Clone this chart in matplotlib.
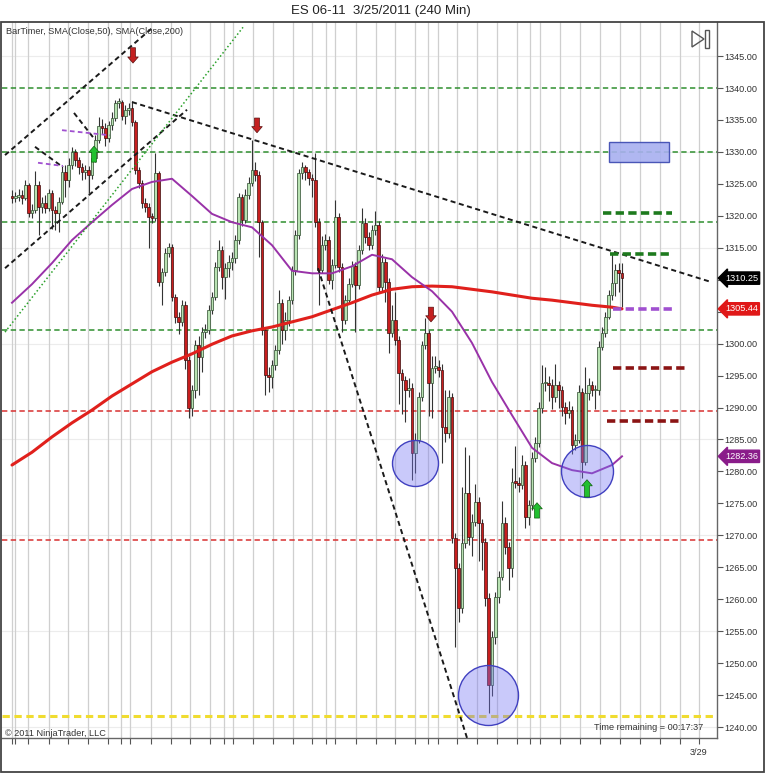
import matplotlib
matplotlib.use("Agg")
import matplotlib.pyplot as plt
import matplotlib.transforms as mtransforms
from matplotlib.patches import Rectangle, Polygon
import numpy as np

plt.rcParams['font.family'] = ['Liberation Sans', 'DejaVu Sans']

# ---------------- data ----------------
title = "ES 06-11  3/25/2011 (240 Min)"
indicator_text = "BarTimer, SMA(Close,50), SMA(Close,200)"
first_open = 1323.0
closes = [
    1322.8, 1322.9, 1323.3, 1322.8, 1324.8, 1320.4, 1320.9, 1324.8, 1321.4, 1322.0,
    1321.2, 1323.6, 1320.9, 1320.4, 1322.2, 1326.9, 1325.6, 1328.0, 1330.0, 1328.7,
    1327.6, 1326.9, 1327.2, 1326.4, 1329.0, 1331.9, 1334.1, 1333.7, 1332.2, 1334.2,
    1335.3, 1337.7, 1337.8, 1335.6, 1336.6, 1336.9, 1334.7, 1327.2, 1325.1, 1322.0,
    1321.4, 1319.8, 1319.7, 1326.7, 1309.6, 1311.2, 1314.2, 1315.1, 1307.3, 1304.2,
    1303.4, 1306.0, 1297.4, 1289.9, 1292.7, 1299.8, 1297.9, 1301.8, 1302.1, 1305.3,
    1307.3, 1312.0, 1314.6, 1310.4, 1311.8, 1312.7, 1313.4, 1316.2, 1322.9, 1319.3,
    1323.3, 1325.1, 1327.2, 1326.4, 1319.0, 1302.1, 1295.1, 1294.8, 1296.7, 1299.0,
    1306.4, 1302.1, 1303.7, 1306.8, 1311.5, 1317.0, 1326.7, 1327.6, 1326.9, 1325.9,
    1325.6, 1319.0, 1311.5, 1315.4, 1316.2, 1310.0, 1312.3, 1319.8, 1312.0, 1303.7,
    1306.8, 1309.4, 1312.2, 1309.2, 1314.6, 1318.9, 1316.7, 1315.4, 1317.8, 1318.6,
    1308.9, 1312.8, 1309.6, 1301.7, 1303.7, 1300.6, 1295.4, 1294.3, 1292.7, 1293.0,
    1282.9, 1284.9, 1291.6, 1299.8, 1301.7, 1293.8, 1296.2, 1296.4, 1295.9, 1287.0,
    1286.0, 1291.6, 1269.6, 1264.9, 1258.6, 1268.8, 1276.6, 1269.7, 1272.1, 1275.2,
    1271.9, 1268.9, 1260.2, 1246.6, 1254.1, 1260.3, 1263.5, 1271.9, 1268.2, 1264.9,
    1278.3, 1278.2, 1277.9, 1281.0, 1272.9, 1274.7, 1282.1, 1284.4, 1289.9, 1293.8,
    1293.8, 1293.5, 1291.6, 1293.5, 1292.7, 1290.1, 1289.1, 1289.6, 1284.1, 1284.9,
    1292.4, 1281.5, 1292.3, 1293.5, 1292.7, 1292.7, 1299.5, 1301.7, 1304.2, 1307.6,
    1309.5, 1311.5, 1311.0, 1310.25,
]
highs = [
    1324.0, 1323.8, 1324.2, 1324.0, 1325.6, 1325.2, 1321.8, 1327.0, 1325.4, 1323.0,
    1323.2, 1324.2, 1324.0, 1321.6, 1323.0, 1327.8, 1328.0, 1329.0, 1330.8, 1330.4,
    1329.2, 1328.2, 1328.0, 1327.8, 1329.6, 1332.6, 1335.4, 1335.2, 1334.5, 1334.8,
    1336.2, 1338.2, 1338.4, 1338.2, 1337.4, 1337.6, 1338.0, 1335.0, 1327.6, 1325.6,
    1322.8, 1322.0, 1320.5, 1329.8, 1327.0, 1311.8, 1315.0, 1315.8, 1315.6, 1307.8,
    1305.0, 1306.8, 1306.6, 1298.0, 1293.6, 1300.6, 1301.2, 1302.6, 1303.0, 1306.0,
    1308.0, 1312.8, 1316.2, 1315.3, 1312.6, 1313.8, 1314.4, 1317.0, 1323.6, 1323.4,
    1324.2, 1326.0, 1331.9, 1328.4, 1327.0, 1319.4, 1302.6, 1296.4, 1297.4, 1299.8,
    1308.4, 1307.0, 1305.0, 1307.5, 1312.2, 1317.8, 1327.4, 1328.4, 1328.0, 1327.4,
    1326.6, 1329.8, 1319.6, 1316.8, 1317.2, 1316.8, 1313.2, 1322.5, 1320.4, 1312.6,
    1307.6, 1310.2, 1313.0, 1312.8, 1315.4, 1321.2, 1319.6, 1317.4, 1318.6, 1320.8,
    1319.2, 1314.0, 1313.4, 1310.2, 1306.0, 1308.0, 1301.2, 1296.0, 1295.0, 1294.6,
    1293.8, 1286.0, 1292.4, 1300.4, 1304.0, 1302.2, 1298.0, 1298.0, 1297.4, 1296.8,
    1292.8, 1292.8, 1292.2, 1270.4, 1265.6, 1277.5, 1283.8, 1282.5, 1273.4, 1278.0,
    1276.0, 1272.6, 1269.6, 1261.0, 1255.0, 1261.2, 1264.4, 1275.4, 1272.8, 1269.0,
    1280.5, 1284.0, 1279.2, 1282.6, 1281.6, 1275.6, 1283.0, 1285.4, 1290.8, 1296.7,
    1296.4, 1295.0, 1294.4, 1296.8, 1294.2, 1293.4, 1290.8, 1291.0, 1290.2, 1285.8,
    1293.6, 1293.0, 1296.3, 1294.6, 1294.2, 1293.6, 1300.4, 1302.6, 1305.0, 1308.4,
    1314.2, 1312.4, 1312.6, 1312.6,
]
lows = [
    1322.0, 1322.2, 1322.3, 1321.8, 1322.5, 1319.8, 1319.6, 1320.5, 1317.0, 1320.5,
    1320.4, 1320.8, 1318.0, 1317.8, 1317.5, 1321.8, 1323.0, 1324.5, 1327.4, 1327.8,
    1326.5, 1325.6, 1325.8, 1323.5, 1325.8, 1328.4, 1331.4, 1332.8, 1331.0, 1331.6,
    1333.4, 1334.9, 1336.8, 1335.0, 1334.4, 1335.8, 1334.0, 1326.5, 1324.4, 1321.2,
    1320.6, 1315.0, 1318.8, 1319.2, 1309.0, 1306.0, 1310.6, 1313.5, 1306.6, 1303.2,
    1301.5, 1302.8, 1296.0, 1288.4, 1288.6, 1291.5, 1292.0, 1295.5, 1300.8, 1301.5,
    1304.6, 1306.8, 1311.4, 1308.5, 1307.0, 1310.5, 1311.5, 1312.6, 1315.6, 1318.4,
    1318.8, 1322.6, 1324.6, 1325.4, 1313.5, 1301.4, 1292.0, 1292.4, 1293.0, 1295.8,
    1298.4, 1300.0, 1300.5, 1302.8, 1306.2, 1310.8, 1316.4, 1325.8, 1325.6, 1324.8,
    1323.0, 1318.2, 1306.0, 1311.0, 1314.6, 1309.4, 1308.6, 1311.8, 1311.2, 1301.8,
    1303.0, 1306.2, 1308.8, 1301.8, 1308.6, 1314.0, 1315.8, 1314.6, 1314.8, 1317.0,
    1308.0, 1308.2, 1306.5, 1298.5, 1301.0, 1299.8, 1290.5, 1289.0, 1287.8, 1291.6,
    1278.7, 1279.8, 1284.4, 1291.0, 1299.2, 1288.6, 1288.4, 1295.4, 1294.8, 1281.3,
    1284.6, 1285.2, 1268.8, 1252.5, 1256.4, 1257.8, 1268.0, 1268.5, 1266.8, 1271.4,
    1266.0, 1264.6, 1259.0, 1242.2, 1244.8, 1253.0, 1259.4, 1263.0, 1267.0, 1261.4,
    1263.5, 1277.4, 1276.8, 1277.2, 1271.2, 1271.6, 1274.0, 1281.4, 1283.8, 1289.2,
    1292.6, 1291.0, 1289.8, 1290.8, 1290.0, 1288.6, 1287.4, 1288.4, 1282.8, 1283.4,
    1284.4, 1279.0, 1281.0, 1291.2, 1291.8, 1289.8, 1292.0, 1299.0, 1301.0, 1303.8,
    1306.8, 1307.5, 1308.0, 1305.7,
]

sma_bars = [0, 6, 12, 18, 24, 30, 36, 42, 48, 54, 60, 66, 72, 78, 84, 90, 96, 102,
            108, 114, 120, 126, 132, 138, 144, 150, 156, 162, 168, 174, 180, 183]
sma50 = [1306.4, 1309.3, 1312.6, 1316.2, 1319.0, 1321.7, 1324.2, 1325.3, 1325.8, 1323.1,
         1320.3, 1319.0, 1318.2, 1315.4, 1311.4, 1311.0, 1311.0, 1312.1, 1313.9, 1313.2,
         1310.4, 1308.2, 1305.0, 1300.1, 1294.0, 1288.8, 1283.7, 1281.3, 1280.2, 1279.7,
         1281.0, 1282.36]
sma200 = [1281.0, 1283.0, 1285.4, 1287.6, 1289.6, 1291.8, 1293.7, 1295.6, 1297.1, 1298.4,
          1299.9, 1301.2, 1302.0, 1302.6, 1303.4, 1304.2, 1305.3, 1306.4, 1307.6, 1308.5,
          1308.9, 1309.0, 1308.9, 1308.5, 1308.1, 1307.6, 1307.1, 1306.8, 1306.4, 1306.0,
          1305.7, 1305.44]

grid_bars = [-0.1, 0.9, 4.8, 11, 16.8, 22.8, 28.8, 32.7, 35.4, 41.7, 47.7, 53.4, 59.4,
             63.6, 66.3, 72.3, 78.3, 84.3, 90, 94.2, 96.9, 103.2, 109.2, 114.9, 120.9,
             124.8, 127.8, 133.5, 139.5, 145.5, 151.5, 155.4, 158.4, 164.4, 170.4, 176.4,
             182.4, 188.4, 194.4, 200.4, 206.1]
x_label = "3/29"
y_ticks = list(range(1240, 1350, 5))
hidden_tick_labels = [1305, 1310]   # covered by the price tags in the reference

green_levels = [1340.0, 1330.0, 1319.0, 1302.2]
red_levels = [1289.4, 1269.2]
yellow_level = 1241.8

# trend lines (bar, price) pairs
black_lines = [((-2.1, 1329.5), (42.3, 1349.5)),
               ((-2.1, 1311.8), (52.5, 1336.6)),
               ((6.9, 1330.8), (15.3, 1327.6)),
               ((18.6, 1336.1), (24.3, 1332.3)),
               ((36.0, 1337.8), (210.0, 1309.6)),
               ((91.8, 1311.8), (136.5, 1238.3))]
green_dotted = ((-2.1, 1301.8), (69.3, 1349.5))
purple_short = [((7.8, 1328.3), (15.3, 1327.8)), ((15.0, 1333.4), (29.4, 1332.6))]

# right-side projected levels: (start bar, end bar, price, colour)
proj_levels = [(177.3, 198.0, 1320.4, '#1d7a1d'),
               (179.4, 198.0, 1314.0, '#1d7a1d'),
               (180.3, 198.9, 1305.4, '#a050d0'),
               (180.3, 201.9, 1296.2, '#8b1414'),
               (178.5, 201.0, 1287.9, '#8b1414')]
target_box = (179.1, 197.1, 1328.4, 1331.5)

circles = [(120.9, 1281.3, 23), (142.8, 1245.0, 30), (172.5, 1280.0, 26)]
down_arrows = [(36.3, 1346.3, 1343.9), (73.5, 1335.3, 1333.0), (125.7, 1305.7, 1303.4)]
up_arrows = [(24.6, 1328.4, 1330.9), (157.5, 1272.7, 1275.1), (172.5, 1276.0, 1278.7)]

price_tags = [(1310.25, '#000000'), (1305.44, '#e01818'), (1282.36, '#8a1c8a')]

# ---------------- figure ----------------
W, H = 768, 774
fig = plt.figure(figsize=(W / 100, H / 100), dpi=100)
fig.patch.set_facecolor('white')
ax = fig.add_axes([2 / W, 1 - 738 / H, 715 / W, 716 / H])
ax.set_facecolor('white')
ax.set_xlim(-3.0, 211.5)
ax.set_ylim(1238.28, 1350.33)

# grids
ax.set_xticks(grid_bars)
ax.set_xticklabels([''] * (len(grid_bars) - 1) + [x_label])
for gb in grid_bars:
    ax.axvline(gb, color='#cfcfcf', lw=0.9, zorder=0.5)
for lvl in range(1240, 1350, 15):
    ax.axhline(lvl, color='#ececec', lw=0.8, zorder=0.4)

for lvl in green_levels:
    ax.axhline(lvl, color='#2f8f2f', lw=1.1, ls=(0, (3.5, 2.2)), zorder=2)
for lvl in red_levels:
    ax.axhline(lvl, color='#d83030', lw=1.1, ls=(0, (3.5, 2.2)), zorder=2)
ax.axhline(yellow_level, color='#f0dc30', lw=2.2, ls=(0, (2.4, 1.5)), zorder=2)

# candles
o = np.array([first_open] + closes[:-1])
c = np.array(closes)
hi = np.maximum(np.array(highs), np.maximum(o, c))
lo = np.minimum(np.array(lows), np.minimum(o, c))
idx = np.arange(len(c))
up = c >= o
bottoms = np.minimum(o, c)
heights = np.maximum(np.abs(c - o), 0.25)
ax.vlines(idx, lo, hi, color='#333333', lw=0.8, zorder=3)
ax.bar(idx[up], heights[up], bottom=bottoms[up], width=0.8, color='#b8e2b2',
       edgecolor='#2c4a2c', lw=0.5, zorder=3.5)
ax.bar(idx[~up], heights[~up], bottom=bottoms[~up], width=0.8, color='#c81e1e',
       edgecolor='#3c0c0c', lw=0.5, zorder=3.5)

# moving averages
ax.plot(sma_bars, sma200, color='#e0201c', lw=2.2, zorder=4, solid_capstyle='round')
ax.plot(sma_bars, sma50, color='#9932a8', lw=1.4, zorder=4.1)

# trend lines
for (x0, y0), (x1, y1) in black_lines:
    ax.plot([x0, x1], [y0, y1], color='#1a1a1a', lw=1.4, ls=(0, (2.6, 1.8)), zorder=5)
(gx0, gy0), (gx1, gy1) = green_dotted
ax.plot([gx0, gx1], [gy0, gy1], color='#2aa02a', lw=1.1, ls=(0, (1, 1.6)), zorder=5)
for (x0, y0), (x1, y1) in purple_short:
    ax.plot([x0, x1], [y0, y1], color='#a050d0', lw=1.3, ls=(0, (2.6, 1.8)), zorder=5)

for x0, x1, lvl, col in proj_levels:
    ax.plot([x0, x1], [lvl, lvl], color=col, lw=2.6, ls=(0, (2.3, 1.2)), zorder=5)

bx0, bx1, by0, by1 = target_box
ax.add_patch(Rectangle((bx0, by0), bx1 - bx0, by1 - by0, facecolor='#a8b0f0',
                       edgecolor='#3a48b0', lw=1.0, zorder=5.5, alpha=0.9))

for cx, cy, r in circles:
    ax.scatter([cx], [cy], s=(2 * r * 0.72) ** 2, facecolor=(0.45, 0.45, 0.95, 0.38),
               edgecolor='#4040c0', lw=1.0, zorder=6)

for ax_x, tail, tip in down_arrows:
    ax.annotate('', xy=(ax_x, tip), xytext=(ax_x, tail),
                arrowprops=dict(arrowstyle='simple,head_length=0.55,head_width=0.95,tail_width=0.45',
                                fc='#c42020', ec='#5a1010', lw=0.5, shrinkA=0, shrinkB=0,
                                mutation_scale=8), zorder=7)
for ax_x, tail, tip in up_arrows:
    ax.annotate('', xy=(ax_x, tip), xytext=(ax_x, tail),
                arrowprops=dict(arrowstyle='simple,head_length=0.55,head_width=0.95,tail_width=0.45',
                                fc='#22c030', ec='#106010', lw=0.5, shrinkA=0, shrinkB=0,
                                mutation_scale=8), zorder=7)

# axes styling
for s in ['top', 'left']:
    ax.spines[s].set_visible(False)
for s in ['right', 'bottom']:
    ax.spines[s].set_color('#666666')
    ax.spines[s].set_linewidth(1.0)
ax.yaxis.tick_right()
ax.set_yticks(y_ticks)
ax.set_yticklabels(['' if v in hidden_tick_labels else f'{v:.2f}' for v in y_ticks])
ax.tick_params(axis='y', length=4, width=0.8, color='#555555', labelsize=6.6,
               labelcolor='#333333', pad=1.5)
ax.tick_params(axis='x', length=4, width=0.8, color='#555555', labelsize=6.6,
               labelcolor='#333333', pad=3)

trans = mtransforms.blended_transform_factory(ax.transAxes, ax.transData)
for val, col in price_tags:
    ax.text(1.011, val, f'{val:.2f}', transform=trans, color='white', fontsize=6.6,
            va='center', ha='left', clip_on=False, zorder=20,
            bbox=dict(boxstyle='larrow,pad=0.18', fc=col, ec=col))

# figure texts & frame
def fx(x):
    return x / W


def fy(y):
    return 1 - y / H


fig.text(fx(381), fy(11), title, ha='center', va='center', fontsize=9.5, color='#222222')
fig.text(fx(6), fy(32), indicator_text, ha='left', va='center', fontsize=6.6, color='#333333')
fig.text(fx(5), fy(733), '\u00a9 2011 NinjaTrader, LLC', ha='left', va='center',
         fontsize=6.6, color='#333333')
fig.text(fx(703), fy(728), 'Time remaining = 00:17:37', ha='right', va='center',
         fontsize=6.6, color='#333333')

fig.add_artist(Polygon([(fx(692), fy(31)), (fx(692), fy(47)), (fx(704), fy(39))], closed=True,
                       fill=False, ec='#555555', lw=1.0, transform=fig.transFigure))
fig.add_artist(Rectangle((fx(705), fy(48)), 4 / W, 18 / H, fill=False, ec='#555555', lw=1.0,
                         transform=fig.transFigure))
fig.add_artist(Rectangle((fx(1), fy(772)), 763 / W, 750 / H, fill=False, ec='#444444', lw=1.3,
                         transform=fig.transFigure))

fig.savefig('out.png', dpi=100, facecolor='white')
